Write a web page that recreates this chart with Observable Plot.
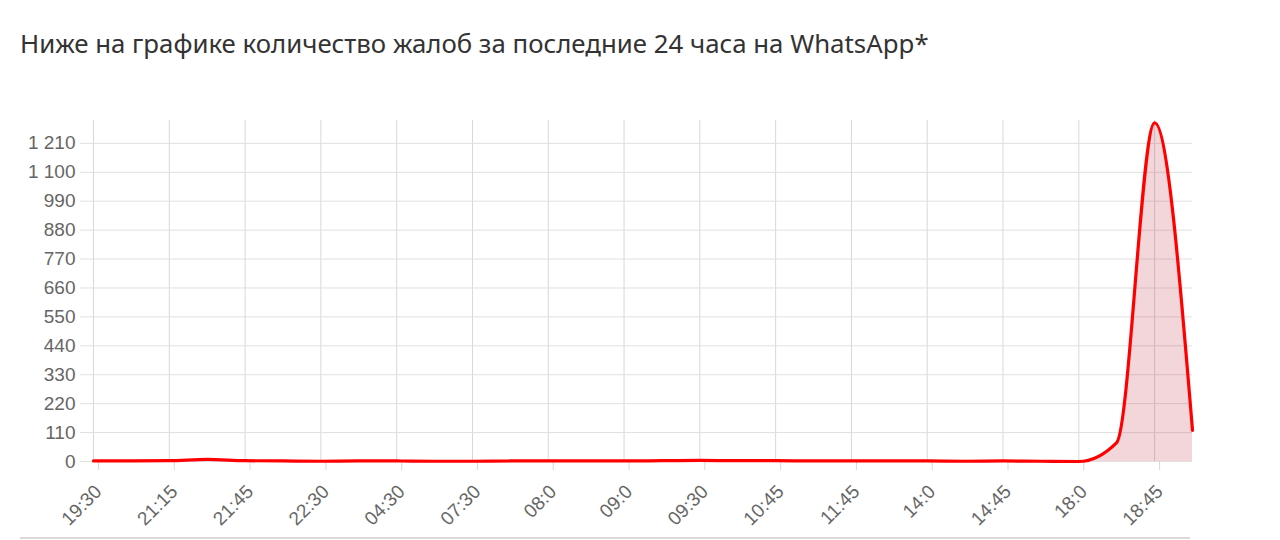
<!DOCTYPE html>
<html>
<head>
<meta charset="utf-8">
<script src="https://cdn.jsdelivr.net/npm/d3@7"></script>
<script src="https://cdn.jsdelivr.net/npm/@observablehq/plot@0.6"></script>
<style>
  html, body { margin: 0; padding: 0; background: #fff; }
  #wrap { position: relative; width: 1280px; height: 540px; overflow: hidden; }
  #title { position: absolute; left: 20px; top: 25px; font-family: "Noto Sans", "Open Sans", sans-serif; font-size: 25.8px; color: #333; white-space: nowrap; }
  #chart { position: absolute; left: 0; top: 90px; }
  #sep { position: absolute; left: 20px; top: 537px; width: 1170px; height: 0; border-top: 2px solid #d9d9d9; }
</style>
</head>
<body>
<div id="wrap">
  <div id="title">Ниже на графике количество жалоб за последние 24 часа на WhatsApp*</div>
  <div id="chart"></div>
  <div id="sep"></div>
</div>
<script>
const tickLabels = ["19:30", "21:15", "21:45", "22:30", "04:30", "07:30", "08:0", "09:0", "09:30", "10:45", "11:45", "14:0", "14:45", "18:0", "18:45"];
const values = [2, 2, 3, 8, 3, 2, 1, 2, 2, 1, 1, 2, 2, 2, 2, 3, 4, 3, 3, 2, 2, 2, 2, 1, 2, 1, 0, 72, 1288, 118];
const yTicks = [0, 110, 220, 330, 440, 550, 660, 770, 880, 990, 1100, 1210];

const data = values.map((v, i) => ({i, v}));
const xTicks = tickLabels.map((_, k) => k * 2);
const fmt = d => d3.format(",")(d).replace(/,/g, " ");

const chart = Plot.plot({
  width: 1280,
  height: 450,
  marginLeft: 93,
  marginRight: 88,
  marginTop: 30,
  marginBottom: 79,
  style: {fontFamily: "'Liberation Sans', Arial, sans-serif", fontSize: "19px", color: "#666", background: "#fff"},
  x: {domain: [0, values.length - 1], ticks: xTicks, tickFormat: i => tickLabels[i / 2], label: null},
  y: {domain: [0, 1297], ticks: yTicks, tickFormat: fmt, label: null},
  marks: [
    Plot.gridX(xTicks, {stroke: "#d8d8d8", strokeOpacity: 1, strokeWidth: 1}),
    Plot.gridY(yTicks, {stroke: "#e0e0e0", strokeOpacity: 1, strokeWidth: 1}),
    Plot.axisX(xTicks, {tickRotate: -45, tickSize: 9, tickPadding: 18, dx: 5, stroke: "#d8d8d8", fill: "#666", fontSize: 19, label: null, tickFormat: i => tickLabels[i / 2]}),
    Plot.axisY(yTicks, {tickSize: 13, tickPadding: 5, stroke: "#e0e0e0", fill: "#666", fontSize: 19, label: null, tickFormat: fmt}),
    Plot.areaY(data, {x: "i", y: "v", curve: "monotone-x", fill: "rgb(190,30,45)", fillOpacity: 0.18}),
    Plot.lineY(data, {x: "i", y: "v", curve: "monotone-x", stroke: "#ff0000", strokeWidth: 3.2})
  ]
});
document.getElementById("chart").appendChild(chart);
</script>
</body>
</html>
